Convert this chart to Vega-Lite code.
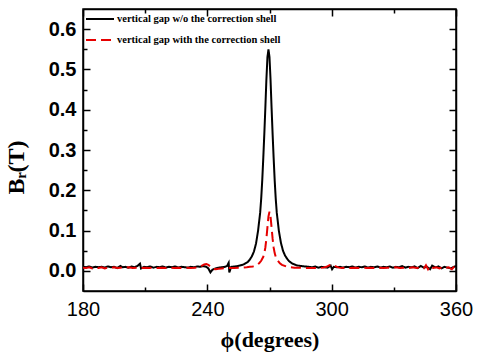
{
  "$schema": "https://vega.github.io/schema/vega-lite/v6.json",
  "width": 373,
  "height": 282,
  "autosize": {"type": "none"},
  "padding": {"left": 83, "top": 9, "right": 21, "bottom": 63},
  "background": "white",
  "config": {
    "view": {"stroke": "#000", "strokeWidth": 1.5},
    "axis": {"grid": false, "domainColor": "#000", "domainWidth": 1.5, "tickColor": "#000", "tickWidth": 1.5, "labelColor": "#000", "titleColor": "#000"}
  },
  "datasets": {
    "black": [
      {"phi": 180, "B": 0.010}, {"phi": 181.5, "B": 0.009}, {"phi": 183, "B": 0.011}, {"phi": 184.5, "B": 0.008},
      {"phi": 186, "B": 0.010}, {"phi": 187.5, "B": 0.009}, {"phi": 189, "B": 0.010}, {"phi": 190.5, "B": 0.008},
      {"phi": 192, "B": 0.011}, {"phi": 193.5, "B": 0.009}, {"phi": 195, "B": 0.010}, {"phi": 196.5, "B": 0.007},
      {"phi": 198, "B": 0.012}, {"phi": 199, "B": 0.009}, {"phi": 200.5, "B": 0.010}, {"phi": 202, "B": 0.008},
      {"phi": 203.5, "B": 0.011}, {"phi": 205, "B": 0.009}, {"phi": 206.5, "B": 0.013}, {"phi": 207.5, "B": 0.018},
      {"phi": 208, "B": 0.006}, {"phi": 209.5, "B": 0.010}, {"phi": 211, "B": 0.009}, {"phi": 212.5, "B": 0.011},
      {"phi": 214, "B": 0.008}, {"phi": 215.5, "B": 0.010}, {"phi": 217, "B": 0.009}, {"phi": 218.5, "B": 0.011},
      {"phi": 220, "B": 0.008}, {"phi": 221.5, "B": 0.010}, {"phi": 223, "B": 0.009}, {"phi": 224.5, "B": 0.011},
      {"phi": 226, "B": 0.008}, {"phi": 227.5, "B": 0.010}, {"phi": 229, "B": 0.009}, {"phi": 230.5, "B": 0.008},
      {"phi": 232, "B": 0.010}, {"phi": 233.5, "B": 0.009}, {"phi": 235, "B": 0.011}, {"phi": 236.5, "B": 0.010},
      {"phi": 238, "B": 0.012}, {"phi": 239.5, "B": 0.010}, {"phi": 240.5, "B": 0.006}, {"phi": 241.5, "B": -0.004},
      {"phi": 242.5, "B": 0.003}, {"phi": 244, "B": 0.006}, {"phi": 245.5, "B": 0.008}, {"phi": 247, "B": 0.009},
      {"phi": 248.5, "B": 0.010}, {"phi": 249.5, "B": 0.012}, {"phi": 250.3, "B": 0.020}, {"phi": 250.6, "B": -0.004},
      {"phi": 251.5, "B": 0.010}, {"phi": 253.5, "B": 0.011}, {"phi": 255.5, "B": 0.013}, {"phi": 257.5, "B": 0.016},
      {"phi": 259.5, "B": 0.022}, {"phi": 260.5, "B": 0.028}, {"phi": 261.5, "B": 0.036}, {"phi": 262.5, "B": 0.048},
      {"phi": 263.5, "B": 0.068}, {"phi": 264.5, "B": 0.100}, {"phi": 265.5, "B": 0.145}, {"phi": 266, "B": 0.180},
      {"phi": 266.5, "B": 0.225}, {"phi": 267, "B": 0.280}, {"phi": 267.5, "B": 0.340}, {"phi": 268, "B": 0.405},
      {"phi": 268.5, "B": 0.475}, {"phi": 269, "B": 0.530}, {"phi": 269.5, "B": 0.550}, {"phi": 270, "B": 0.530},
      {"phi": 270.5, "B": 0.475}, {"phi": 271, "B": 0.405}, {"phi": 271.5, "B": 0.340}, {"phi": 272, "B": 0.280},
      {"phi": 272.5, "B": 0.225}, {"phi": 273, "B": 0.180}, {"phi": 273.5, "B": 0.145}, {"phi": 274.5, "B": 0.100},
      {"phi": 275.5, "B": 0.070}, {"phi": 276.5, "B": 0.050}, {"phi": 277.5, "B": 0.038}, {"phi": 278.5, "B": 0.030},
      {"phi": 279.5, "B": 0.024}, {"phi": 281, "B": 0.018}, {"phi": 283, "B": 0.014}, {"phi": 285, "B": 0.012},
      {"phi": 287, "B": 0.011}, {"phi": 289, "B": 0.010}, {"phi": 290.5, "B": 0.009}, {"phi": 292, "B": 0.011},
      {"phi": 293.5, "B": 0.008}, {"phi": 295, "B": 0.010}, {"phi": 296.5, "B": 0.009}, {"phi": 298, "B": 0.008},
      {"phi": 299.5, "B": 0.013}, {"phi": 300.2, "B": 0.004}, {"phi": 301, "B": 0.010}, {"phi": 302.5, "B": 0.009},
      {"phi": 304, "B": 0.010}, {"phi": 305.5, "B": 0.008}, {"phi": 307, "B": 0.010}, {"phi": 308.5, "B": 0.009},
      {"phi": 310, "B": 0.011}, {"phi": 311.5, "B": 0.008}, {"phi": 313, "B": 0.010}, {"phi": 314.5, "B": 0.009},
      {"phi": 316, "B": 0.011}, {"phi": 317.5, "B": 0.008}, {"phi": 319, "B": 0.010}, {"phi": 320.5, "B": 0.009},
      {"phi": 322, "B": 0.011}, {"phi": 323.5, "B": 0.008}, {"phi": 325, "B": 0.010}, {"phi": 326.5, "B": 0.009},
      {"phi": 328, "B": 0.011}, {"phi": 329.5, "B": 0.008}, {"phi": 331, "B": 0.010}, {"phi": 332.5, "B": 0.009},
      {"phi": 334, "B": 0.012}, {"phi": 335.5, "B": 0.008}, {"phi": 337, "B": 0.010}, {"phi": 338.5, "B": 0.009},
      {"phi": 340, "B": 0.011}, {"phi": 341.5, "B": 0.007}, {"phi": 343, "B": 0.012}, {"phi": 344.5, "B": 0.008},
      {"phi": 346, "B": 0.010}, {"phi": 347.5, "B": 0.004}, {"phi": 348.5, "B": 0.013}, {"phi": 350, "B": 0.009},
      {"phi": 351.5, "B": 0.011}, {"phi": 353, "B": 0.006}, {"phi": 354.5, "B": 0.010}, {"phi": 356, "B": 0.008},
      {"phi": 357.5, "B": 0.006}, {"phi": 359, "B": 0.010}, {"phi": 360, "B": 0.012}
    ],
    "red": [
      {"phi": 180, "B": 0.008}, {"phi": 181.5, "B": 0.007}, {"phi": 183, "B": 0.009}, {"phi": 184.5, "B": 0.006},
      {"phi": 186, "B": 0.008}, {"phi": 187.5, "B": 0.007}, {"phi": 189, "B": 0.009}, {"phi": 190.5, "B": 0.006},
      {"phi": 192, "B": 0.008}, {"phi": 193.5, "B": 0.007}, {"phi": 195, "B": 0.009}, {"phi": 196.5, "B": 0.007},
      {"phi": 198, "B": 0.008}, {"phi": 200, "B": 0.007}, {"phi": 202, "B": 0.009}, {"phi": 204, "B": 0.007},
      {"phi": 206, "B": 0.008}, {"phi": 208, "B": 0.007}, {"phi": 210, "B": 0.008}, {"phi": 212, "B": 0.007},
      {"phi": 214, "B": 0.008}, {"phi": 216, "B": 0.007}, {"phi": 218, "B": 0.008}, {"phi": 220, "B": 0.007},
      {"phi": 222, "B": 0.008}, {"phi": 224, "B": 0.007}, {"phi": 226, "B": 0.008}, {"phi": 228, "B": 0.007},
      {"phi": 230, "B": 0.008}, {"phi": 232, "B": 0.007}, {"phi": 234, "B": 0.008}, {"phi": 235.5, "B": 0.009},
      {"phi": 237, "B": 0.012}, {"phi": 238.5, "B": 0.016}, {"phi": 239.5, "B": 0.017}, {"phi": 240.5, "B": 0.015},
      {"phi": 241.5, "B": 0.010}, {"phi": 242.5, "B": 0.005}, {"phi": 244, "B": 0.004}, {"phi": 245.5, "B": 0.005},
      {"phi": 247, "B": 0.006}, {"phi": 249, "B": 0.007}, {"phi": 251, "B": 0.007}, {"phi": 253, "B": 0.007},
      {"phi": 255, "B": 0.008}, {"phi": 257, "B": 0.008}, {"phi": 259, "B": 0.009}, {"phi": 260.5, "B": 0.010},
      {"phi": 262, "B": 0.011}, {"phi": 264, "B": 0.015}, {"phi": 265, "B": 0.019}, {"phi": 266, "B": 0.025},
      {"phi": 267, "B": 0.035}, {"phi": 267.5, "B": 0.044}, {"phi": 268, "B": 0.058}, {"phi": 268.5, "B": 0.080},
      {"phi": 269, "B": 0.108}, {"phi": 269.5, "B": 0.135}, {"phi": 270, "B": 0.147}, {"phi": 270.5, "B": 0.135},
      {"phi": 271, "B": 0.108}, {"phi": 271.5, "B": 0.080}, {"phi": 272, "B": 0.058}, {"phi": 272.5, "B": 0.044},
      {"phi": 273, "B": 0.035}, {"phi": 274, "B": 0.025}, {"phi": 275, "B": 0.019}, {"phi": 276, "B": 0.015},
      {"phi": 278, "B": 0.011}, {"phi": 280, "B": 0.009}, {"phi": 282, "B": 0.008}, {"phi": 284, "B": 0.008},
      {"phi": 286, "B": 0.007}, {"phi": 288, "B": 0.007}, {"phi": 290, "B": 0.007}, {"phi": 292, "B": 0.007},
      {"phi": 294, "B": 0.007}, {"phi": 296, "B": 0.008}, {"phi": 297.5, "B": 0.010}, {"phi": 299, "B": 0.014},
      {"phi": 300, "B": 0.016}, {"phi": 301, "B": 0.015}, {"phi": 302, "B": 0.011}, {"phi": 303.5, "B": 0.008},
      {"phi": 305, "B": 0.007}, {"phi": 307, "B": 0.008}, {"phi": 309, "B": 0.007}, {"phi": 311, "B": 0.008},
      {"phi": 313, "B": 0.007}, {"phi": 315, "B": 0.008}, {"phi": 317, "B": 0.007}, {"phi": 319, "B": 0.008},
      {"phi": 321, "B": 0.007}, {"phi": 323, "B": 0.008}, {"phi": 325, "B": 0.007}, {"phi": 327, "B": 0.008},
      {"phi": 329, "B": 0.007}, {"phi": 331, "B": 0.009}, {"phi": 333, "B": 0.007}, {"phi": 335, "B": 0.008},
      {"phi": 337, "B": 0.007}, {"phi": 339, "B": 0.009}, {"phi": 341, "B": 0.007}, {"phi": 343, "B": 0.008},
      {"phi": 344.5, "B": 0.006}, {"phi": 345.5, "B": 0.014}, {"phi": 346.5, "B": 0.004}, {"phi": 347.5, "B": 0.012},
      {"phi": 349, "B": 0.007}, {"phi": 350.5, "B": 0.009}, {"phi": 352, "B": 0.006}, {"phi": 353.5, "B": 0.010},
      {"phi": 355, "B": 0.007}, {"phi": 356.5, "B": 0.009}, {"phi": 358, "B": 0.004}, {"phi": 359, "B": 0.010},
      {"phi": 360, "B": 0.015}
    ]
  },
  "layer": [
    {
      "data": {"name": "black"},
      "mark": {"type": "line", "strokeWidth": 2, "clip": true},
      "encoding": {
        "x": {"field": "phi", "type": "quantitative",
          "scale": {"domain": [180, 360], "nice": false, "zero": false},
          "axis": {"orient": "bottom", "values": [180, 210, 240, 270, 300, 330, 360],
            "tickSize": {"condition": {"test": "datum.value % 60 === 0", "value": -7}, "value": -4},
            "labelExpr": "datum.value % 60 === 0 ? datum.label : ''",
            "labelFont": "Liberation Sans", "labelFontSize": 20, "labelPadding": 15, "labelFlush": false,
            "title": "ϕ(degrees)", "titleFont": "Liberation Serif", "titleFontWeight": "bold", "titleFontSize": 22, "titlePadding": 10}},
        "y": {"field": "B", "type": "quantitative",
          "scale": {"domain": [-0.05, 0.65], "nice": false, "zero": false},
          "axis": {"orient": "left", "values": [0, 0.05, 0.1, 0.15, 0.2, 0.25, 0.3, 0.35, 0.4, 0.45, 0.5, 0.55, 0.6],
            "tickSize": {"condition": {"test": "round(datum.value*100) % 10 === 0", "value": -7}, "value": -4},
            "labelExpr": "round(datum.value*100) % 10 === 0 ? format(datum.value, '.1f') : ''",
            "labelFont": "Liberation Sans", "labelFontWeight": "bold", "labelFontSize": 20, "labelPadding": 14,
            "title": "Bᵣ(T)", "titleFont": "Liberation Serif", "titleFontWeight": "bold", "titleFontSize": 24, "titlePadding": 20, "titleY": 158}},
        "color": {"datum": "vertical gap w/o the correction shell",
          "scale": {"domain": ["vertical gap w/o the correction shell", "vertical gap with the correction shell"], "range": ["#000000", "#e60000"]},
          "legend": {"orient": "none", "legendX": 2, "legendY": -5, "title": null, "symbolType": "stroke", "symbolSize": 784, "symbolStrokeWidth": 2,
            "labelFont": "Liberation Serif", "labelFontWeight": "bold", "labelFontSize": 10.5, "labelColor": "#000", "labelLimit": 400, "labelOffset": 2, "rowPadding": -3}},
        "strokeDash": {"datum": "vertical gap w/o the correction shell",
          "scale": {"domain": ["vertical gap w/o the correction shell", "vertical gap with the correction shell"], "range": [[1, 0], [10, 5]]},
          "legend": {"orient": "none", "legendX": 2, "legendY": -5, "title": null, "symbolType": "stroke", "symbolSize": 784, "symbolStrokeWidth": 2,
            "labelFont": "Liberation Serif", "labelFontWeight": "bold", "labelFontSize": 10.5, "labelColor": "#000", "labelLimit": 400, "labelOffset": 2, "rowPadding": -3}}
      }
    },
    {
      "data": {"name": "red"},
      "mark": {"type": "line", "strokeWidth": 2, "clip": true},
      "encoding": {
        "x": {"field": "phi", "type": "quantitative",
          "axis": {"orient": "top", "values": [180, 210, 240, 270, 300, 330, 360],
            "tickSize": {"condition": {"test": "datum.value % 60 === 0", "value": -7}, "value": -4},
            "labels": false, "title": null}},
        "y": {"field": "B", "type": "quantitative",
          "axis": {"orient": "right", "values": [0, 0.05, 0.1, 0.15, 0.2, 0.25, 0.3, 0.35, 0.4, 0.45, 0.5, 0.55, 0.6],
            "tickSize": {"condition": {"test": "round(datum.value*100) % 10 === 0", "value": -7}, "value": -4},
            "labels": false, "title": null}},
        "color": {"datum": "vertical gap with the correction shell"},
        "strokeDash": {"datum": "vertical gap with the correction shell"}
      }
    }
  ],
  "resolve": {"axis": {"x": "independent", "y": "independent"}}
}
